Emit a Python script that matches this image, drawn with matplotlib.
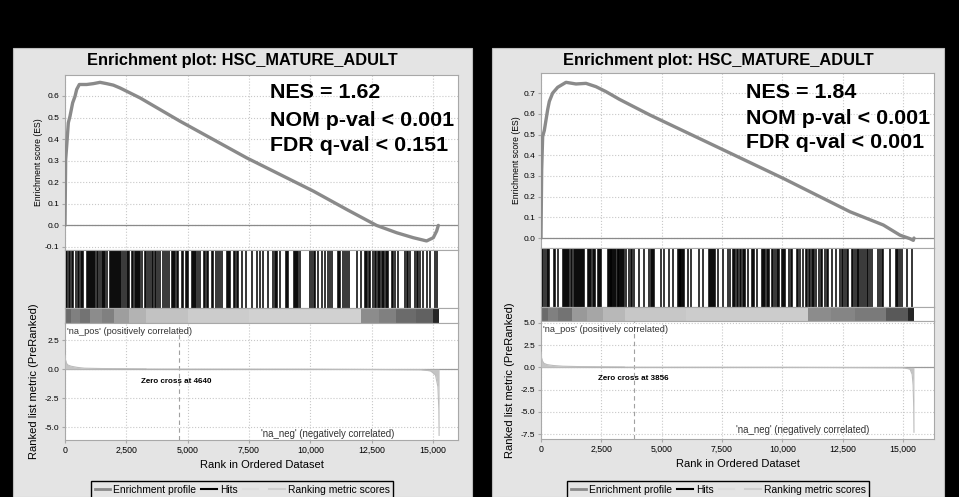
import numpy as np
import matplotlib
matplotlib.use('Agg')
from matplotlib import pyplot as plt
from matplotlib.lines import Line2D
from matplotlib.patches import Rectangle
from matplotlib.ticker import FuncFormatter

plt.rcParams['font.family'] = ['Liberation Sans', 'DejaVu Sans']

W, H = 959, 497

title = 'Enrichment plot: HSC_MATURE_ADULT'
xticks = [0, 2500, 5000, 7500, 10000, 12500, 15000]

# ---- left plot (NES 1.62) ----
left_stats = ['NES = 1.62', 'NOM p-val < 0.001', 'FDR q-val < 0.151']
left_zero_cross = 4640
left_es_rank = [0, 27, 68, 136, 204, 312, 408, 476, 584, 883, 1155, 1427, 1698, 1970,
                2242, 2650, 3057, 4687, 7405, 10122, 11481, 12700, 13520, 14197,
                14740, 15013, 15150, 15218]
left_es = [0.0, 0.305, 0.367, 0.476, 0.506, 0.568, 0.598, 0.63, 0.653, 0.653, 0.657, 0.663,
           0.657, 0.65, 0.637, 0.614, 0.591, 0.483, 0.313, 0.159, 0.074, 0.0, -0.034,
           -0.057, -0.072, -0.057, -0.026, 0.0]
left_hits = [5, 30, 60, 95, 177, 220, 272, 345, 440, 544, 590, 640, 680, 750,
             910, 950, 990, 1030, 1070, 1110, 1150, 1190, 1220, 1290, 1340, 1430, 1490,
             1560, 1600, 1650, 1700, 1830, 1880, 1930, 1970,
             2010, 2050, 2090, 2130, 2170, 2210, 2250, 2280, 2380, 2440, 2510, 2560, 2620,
             2720, 2790, 2850, 2890, 2930, 2970, 3010, 3060, 3140, 3260, 3320,
             3400, 3450, 3530, 3600, 3660, 3710, 3800, 3880, 4010, 4070, 4170, 4240,
             4350, 4400, 4450, 4490, 4560, 4620, 4770, 4830, 4930, 4980, 5030,
             5160, 5200, 5250, 5300, 5340, 5430, 5500, 5650, 5710, 5780, 5840, 5990, 6050,
             6160, 6220, 6330, 6390, 6590, 6640, 6690, 6720, 6870, 6930, 7010, 7070,
             7200, 7380, 7610, 7830, 7950, 8084, 8288, 8491, 8540, 8590, 8627, 8763,
             8994, 9050, 9103, 9348, 9390, 9430, 9470, 9511, 9579,
             9986, 10060, 10130, 10190, 10326, 10462, 10598, 10734, 10800, 10870,
             11114, 11160, 11209, 11345, 11410, 11481, 11576, 11889, 12066,
             12228, 12280, 12330, 12380, 12432, 12568, 12620, 12664, 12745, 12800, 12840,
             12908, 12960, 13017, 13071, 13130, 13180, 13316, 13380, 13452, 13588,
             13860, 13930, 13995, 14063, 14267, 14330, 14403, 14471, 14607, 14743, 14879,
             15083, 15150]
left_bar_edges = [0, 250, 600, 1000, 1500, 2000, 2600, 3300, 5000, 7500, 12050, 12800,
                  13500, 14300, 15000, 15250]
left_bar_gray = [0.42, 0.5, 0.45, 0.55, 0.5, 0.62, 0.7, 0.76, 0.8, 0.82, 0.55, 0.5,
                 0.42, 0.38, 0.15]
left_metric_rank = [0, 20, 60, 120, 250, 500, 800, 1500, 3300, 3350, 4640, 10000, 14500,
                    14900, 15100, 15200, 15240, 15250]
left_metric = [1.2, 0.8, 0.5, 0.35, 0.25, 0.15, 0.08, 0.05, 0.03, 0.005, 0.0, -0.01,
               -0.05, -0.15, -0.5, -1.5, -3.5, -5.7]

# ---- right plot (NES 1.84) ----
right_stats = ['NES = 1.84', 'NOM p-val < 0.001', 'FDR q-val < 0.001']
right_zero_cross = 3856
right_es_rank = [0, 28, 69, 138, 207, 276, 345, 483, 691, 1036, 1450, 1865, 2279, 2694,
                 3246, 4517, 7281, 10043, 12805, 14185, 14876, 15290, 15428, 15455]
right_es = [0.0, 0.33, 0.49, 0.52, 0.57, 0.62, 0.66, 0.70, 0.728, 0.752, 0.744, 0.747,
            0.731, 0.707, 0.67, 0.594, 0.441, 0.288, 0.127, 0.063, 0.014, -0.003, -0.011, 0.0]
right_hits = [5, 40, 97, 180, 230, 276, 345, 553, 600, 691, 898, 940, 980, 1020, 1060, 1105,
              1174, 1230, 1285, 1381, 1420, 1460, 1500, 1540, 1580, 1620, 1660, 1700, 1726,
              1795, 1934, 1980, 2030, 2072, 2141, 2200, 2251, 2348, 2400, 2450, 2486,
              2762, 2800, 2840, 2880, 2920, 2960, 3000, 3040, 3080, 3107,
              3176, 3210, 3250, 3290, 3330, 3370, 3410, 3453, 3522, 3660, 3720, 3770,
              3867, 4074, 4281, 4488, 4540, 4590, 4627, 4696, 4972, 5110, 5290, 5455,
              5662, 5700, 5740, 5780, 5820, 5860, 5900, 5939, 6077, 6215, 6560, 6698,
              6974, 7010, 7050, 7090, 7130, 7170, 7223, 7320, 7527, 7734, 7832, 7941,
              7998, 8050, 8108, 8177, 8230, 8274, 8357, 8410, 8453, 8592, 8730, 8780, 8826,
              8964, 9144, 9200, 9250, 9282, 9351, 9410, 9462, 9558, 9620, 9696, 9766, 9830,
              9876, 9973, 10030, 10069, 10111, 10290, 10340, 10387, 10594, 10660, 10732,
              10843, 10981, 11040, 11100, 11146, 11215, 11270, 11330, 11395, 11533, 11590,
              11630, 11768, 11840, 11906, 12044, 12224, 12389, 12460, 12527, 12596, 12660,
              12734, 12873, 12940, 13011, 13080, 13140, 13190, 13245, 13328, 13425, 13490,
              13560, 13632, 13701, 13977, 14040, 14110, 14185, 14461, 14710, 14760, 14810,
              14875, 14944, 15151, 15358]
right_bar_edges = [0, 300, 700, 1300, 1900, 2550, 3500, 6000, 11080, 12000, 13000, 14300,
                   15200, 15450]
right_bar_gray = [0.42, 0.5, 0.45, 0.6, 0.65, 0.72, 0.78, 0.8, 0.55, 0.52, 0.48, 0.35, 0.15]
right_metric_rank = [0, 20, 60, 120, 250, 500, 900, 1500, 3450, 3500, 3856, 10000, 15000,
                     15290, 15380, 15420, 15445, 15455]
right_metric = [1.7, 1.1, 0.7, 0.45, 0.3, 0.2, 0.12, 0.08, 0.04, 0.005, 0.0, -0.01,
                -0.05, -0.2, -0.8, -2.0, -4.5, -7.3]

panel_bg = '#e4e4e4'
grid_c = '#c8c8c8'
spine_c = '#a8a8a8'


def rect(x0, y0, x1, y1):
    return [x0 / W, 1 - y1 / H, (x1 - x0) / W, (y1 - y0) / H]


def style(ax, xmax):
    ax.set_xlim(0, xmax)
    ax.set_facecolor('white')
    for s in ax.spines.values():
        s.set_color(spine_c)
        s.set_linewidth(0.8)
    ax.tick_params(length=2, color=spine_c, labelsize=6, pad=2)


def draw(p):
    fig.add_artist(Rectangle((p['px0'] / W, 0), (p['px1'] - p['px0']) / W, 1 - p['py0'] / H,
                             transform=fig.transFigure, facecolor=panel_bg,
                             edgecolor='#bdbdbd', lw=0.8, zorder=-5))
    x0, x1 = p['ax0'], p['ax1']
    ys = p['ys']
    fig.text((p['px0'] + p['px1']) / 2 / W, 1 - p['ty'] / H, title, ha='center',
             va='center', fontsize=11.8, fontweight='bold')

    # ES
    ax = fig.add_axes(rect(x0, ys[0], x1, ys[1]))
    style(ax, p['xmax'])
    ax.plot(p['es_rank'], p['es'], color='#8a8a8a', lw=2.4, solid_capstyle='round', zorder=3)
    ax.axhline(0, color='#8a8a8a', lw=0.9, zorder=2)
    ax.set_ylim(*p['es_lim'])
    ax.set_yticks(p['es_ticks'])
    ax.yaxis.set_major_formatter(FuncFormatter(lambda v, _: f'{v:.1f}'))
    ax.set_xticks(xticks)
    ax.tick_params(axis='x', labelbottom=False, length=0)
    ax.grid(True, ls=':', color=grid_c, lw=0.8)
    ax.set_axisbelow(True)
    ax.set_ylabel('Enrichment score (ES)', fontsize=6.2, labelpad=1.5)
    for i, s in enumerate(p['stats']):
        fig.text(p['sx'] / W, 1 - p['sy'][i] / H, s, fontsize=15.4, fontweight='bold',
                 va='center', ha='left')

    # hits
    ax = fig.add_axes(rect(x0, ys[1], x1, ys[2]))
    style(ax, p['xmax'])
    ax.vlines(p['hits'], 0, 1, color='black', lw=1.1)
    ax.set_ylim(0, 1)
    ax.set_xticks([])
    ax.set_yticks([])

    # colour bar
    ax = fig.add_axes(rect(x0, ys[2], x1, ys[3]))
    style(ax, p['xmax'])
    edges = p['bar_edges']
    ax.bar(edges[:-1], 1, width=np.diff(edges), align='edge',
           color=[str(g) for g in p['bar_gray']], lw=0)
    ax.set_ylim(0, 1)
    ax.set_xticks([])
    ax.set_yticks([])

    # ranked metric
    ax = fig.add_axes(rect(x0, ys[3], x1, ys[4]))
    style(ax, p['xmax'])
    ax.fill_between(p['m_rank'], p['metric'], 0, color='#c4c4c4', lw=0, zorder=3)
    ax.plot(p['m_rank'], p['metric'], color='#bdbdbd', lw=0.8, zorder=3)
    ax.axhline(0, color='#9a9a9a', lw=0.9, zorder=2)
    ax.axvline(p['zero'], color='#a0a0a0', ls=(0, (4, 3)), lw=0.8, zorder=2)
    ax.set_ylim(*p['m_lim'])
    ax.set_yticks(p['m_ticks'])
    ax.yaxis.set_major_formatter(FuncFormatter(lambda v, _: f'{v:.1f}'))
    ax.set_xticks(xticks)
    ax.xaxis.set_major_formatter(FuncFormatter(lambda v, _: f'{int(v):,}'))
    ax.tick_params(axis='x', labelsize=6.3)
    ax.grid(True, ls=':', color=grid_c, lw=0.8)
    ax.set_axisbelow(True)
    ax.set_xlabel('Rank in Ordered Dataset', fontsize=8, labelpad=4)
    ax.set_ylabel('Ranked list metric (PreRanked)', fontsize=8, labelpad=4)
    ax.text(0.005, 0.97, "'na_pos' (positively correlated)", transform=ax.transAxes,
            fontsize=6.7, color='#333333', va='top', ha='left')
    ax.text(p['zx'], p['zy'], 'Zero cross at %d' % p['zero'], fontsize=5.8,
            fontweight='bold', va='center', ha='left')
    ax.text(p['nx'], p['ny'], "'na_neg' (negatively correlated)", fontsize=6.9,
            color='#333333', va='center', ha='left')

    handles = [Line2D([], [], color='#8a8a8a', lw=2, label='Enrichment profile'),
               Line2D([], [], color='black', lw=1.5, label='Hits'),
               Line2D([], [], color='#dddddd', lw=1.5, label=' '),
               Line2D([], [], color='#cfcfcf', lw=1.5, label='Ranking metric scores')]
    fig.legend(handles=handles, loc='upper left', bbox_to_anchor=(p['lx'] / W, 1 - 476 / H),
               ncol=4, fontsize=7.4, handlelength=1.5, handletextpad=0.3,
               columnspacing=0.5, borderpad=0.35, fancybox=False, edgecolor='black',
               facecolor=panel_bg, framealpha=1)


fig = plt.figure(figsize=(W / 100, H / 100), dpi=100, facecolor='black')

draw(dict(px0=13, px1=472, py0=48, ax0=65, ax1=458, ys=[75, 250, 308, 323, 440],
          ty=61, xmax=16020, es_rank=left_es_rank, es=left_es, es_lim=(-0.114, 0.697),
          es_ticks=[-0.1, 0.0, 0.1, 0.2, 0.3, 0.4, 0.5, 0.6], stats=left_stats,
          sx=270, sy=[93, 120, 146], hits=left_hits, bar_edges=left_bar_edges,
          bar_gray=left_bar_gray, m_rank=left_metric_rank, metric=left_metric,
          zero=left_zero_cross, m_lim=(-6.1, 3.97), m_ticks=[-5.0, -2.5, 0.0, 2.5],
          zx=3100, zy=-1.1, nx=8000, ny=-5.6, lx=86))

draw(dict(px0=492, px1=944, py0=48, ax0=541, ax1=934, ys=[73, 248, 307, 321, 439],
          ty=61, xmax=16285, es_rank=right_es_rank, es=right_es, es_lim=(-0.048, 0.797),
          es_ticks=[0.0, 0.1, 0.2, 0.3, 0.4, 0.5, 0.6, 0.7], stats=right_stats,
          sx=746, sy=[92, 118, 143], hits=right_hits, bar_edges=right_bar_edges,
          bar_gray=right_bar_gray, m_rank=right_metric_rank, metric=right_metric,
          zero=right_zero_cross, m_lim=(-8.06, 5.2),
          m_ticks=[-7.5, -5.0, -2.5, 0.0, 2.5, 5.0],
          zx=2350, zy=-1.3, nx=8100, ny=-7.1, lx=562))

fig.savefig('out.png', dpi=100, facecolor='black')
